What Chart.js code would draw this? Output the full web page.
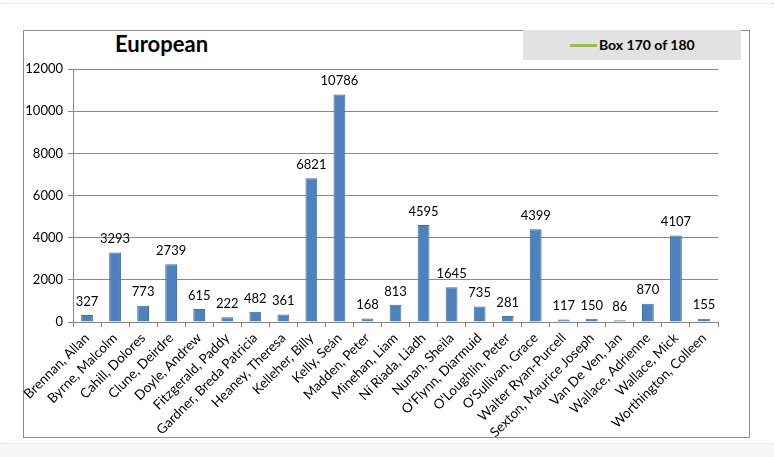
<!DOCTYPE html>
<html>
<head>
<meta charset="utf-8">
<script src="https://cdn.jsdelivr.net/npm/chart.js@4"></script>
<style>
  body { margin: 0; background: #fff; font-family: Lato, "Open Sans", sans-serif; }
  #wrap { position: relative; width: 774px; height: 457px; overflow: hidden; }
  #topline { position: absolute; left: 0; top: 3px; width: 774px; border-top: 1px dotted #ddd; }
  #bottom { position: absolute; left: 0; top: 443px; width: 774px; height: 14px; background: #f6f6f6; border-top: 1px dotted #ddd; }
  #frame { position: absolute; left: 23px; top: 30px; width: 725px; height: 406px; border: 1px solid #8c8c8c; }
  #title { position: absolute; left: 115px; top: 30px; font-size: 22px; font-weight: bold; color: #000; }
  #legend { position: absolute; left: 523px; top: 30px; width: 218px; height: 30px; background: #e2e2e2;
            font-size: 14px; font-weight: bold; line-height: 30px; }
  #legend span.swatch { position: absolute; left: 47px; top: 14px; width: 27px; height: 3px; background: #9bbb59; }
  #legend span.txt { position: absolute; left: 76px; top: 0; }
  canvas { position: absolute; left: 0; top: 0; }
</style>
</head>
<body>
<div id="wrap">
  <div id="topline"></div>
  <div id="bottom"></div>
  <div id="frame"></div>
  <div id="title">European</div>
  <div id="legend"><span class="swatch"></span><span class="txt">Box 170 of 180</span></div>
  <canvas id="chart" width="774" height="457"></canvas>
</div>
<script>
const names = [
  'Brennan, Allan', 'Byrne, Malcolm', 'Cahill, Dolores', 'Clune, Deirdre', 'Doyle, Andrew',
  'Fitzgerald, Paddy', 'Gardner, Breda Patricia', 'Heaney, Theresa', 'Kelleher, Billy', 'Kelly, Seán',
  'Madden, Peter', 'Minehan, Liam', 'Ní Riada, Liadh', 'Nunan, Sheila', "O'Flynn, Diarmuid",
  "O'Loughlin, Peter", "O'Sullivan, Grace", 'Walter Ryan-Purcell', 'Sexton, Maurice Joseph', 'Van De Ven, Jan',
  'Wallace, Adrienne', 'Wallace, Mick', 'Worthington, Colleen'
];
const votes = [327, 3293, 773, 2739, 615, 222, 482, 361, 6821, 10786, 168, 813, 4595, 1645, 735, 281, 4399, 117, 150, 86, 870, 4107, 155];
const yTicks = [0, 2000, 4000, 6000, 8000, 10000, 12000];

// value labels above each bar
const valueLabels = {
  id: 'valueLabels',
  afterDatasetsDraw(chart) {
    const ctx = chart.ctx;
    const meta = chart.getDatasetMeta(0);
    ctx.save();
    ctx.font = '13px Lato, "Open Sans", sans-serif';
    ctx.fillStyle = '#000';
    ctx.textAlign = 'center';
    ctx.textBaseline = 'bottom';
    meta.data.forEach((bar, i) => {
      ctx.fillText(String(votes[i]), bar.x, bar.y - 7);
    });
    ctx.restore();
  }
};

const ctx = document.getElementById('chart').getContext('2d');
new Chart(ctx, {
  type: 'bar',
  data: {
    labels: names,
    datasets: [{
      label: 'Box 170 of 180',
      data: votes,
      backgroundColor: '#4f81bd',
      borderColor: '#3f6ea6',
      borderWidth: 1,
      barPercentage: 0.42,
      categoryPercentage: 1
    }]
  },
  options: {
    responsive: false,
    animation: false,
    layout: { padding: { left: 23, right: 56, top: 69, bottom: 20 } },
    plugins: {
      legend: { display: false },
      title: { display: false },
      tooltip: { enabled: false }
    },
    scales: {
      x: {
        grid: { display: true, drawOnChartArea: false, offset: true, tickLength: 5, color: '#888' },
        border: { color: '#888' },
        ticks: {
          minRotation: 45, maxRotation: 45, autoSkip: false,
          font: { family: 'Lato, "Open Sans", sans-serif', size: 13.5 }, color: '#000', padding: 3
        },
        afterFit(scale) { scale.height = 115; }
      },
      y: {
        min: 0, max: 12000,
        afterBuildTicks(scale) { scale.ticks = yTicks.map((v) => ({ value: v })); },
        grid: { color: '#888', tickLength: 5 },
        border: { color: '#888' },
        ticks: {
          font: { family: 'Lato, "Open Sans", sans-serif', size: 13 }, color: '#000', padding: 5,
          callback: (v) => String(v)
        },
        afterFit(scale) { scale.width = 50; }
      }
    }
  },
  plugins: [valueLabels]
});
</script>
</body>
</html>
